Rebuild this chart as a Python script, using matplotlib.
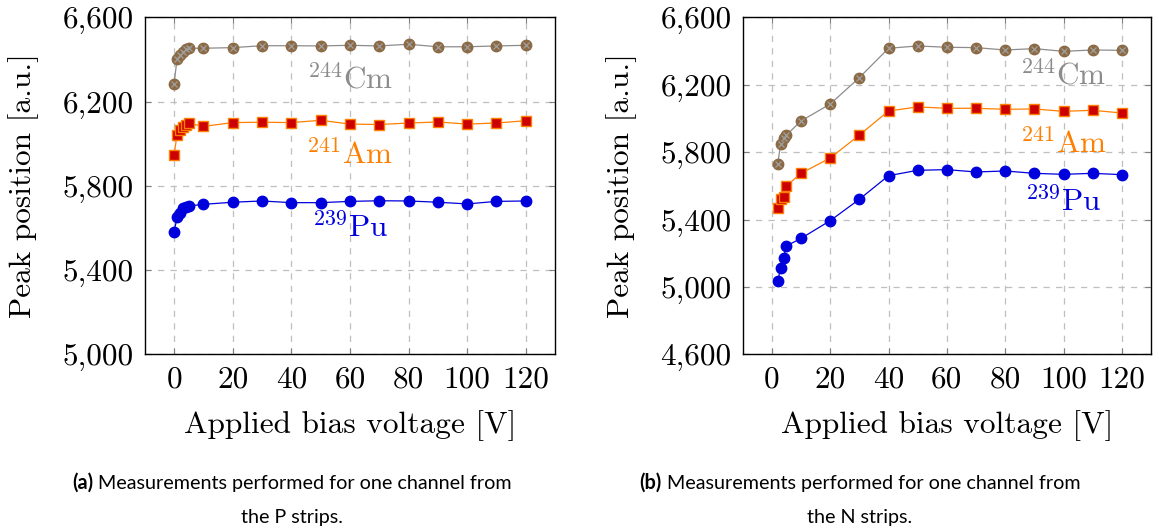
import matplotlib
matplotlib.use("Agg")
import matplotlib.pyplot as plt
from matplotlib.ticker import FuncFormatter

plt.rcParams['mathtext.fontset'] = 'cm'
plt.rcParams['axes.unicode_minus'] = False

# P strips (left)
p_volt = [0, 1, 2, 3, 4, 5, 10, 20, 30, 40, 50, 60, 70, 80, 90, 100, 110, 120]
p_cm = [6283, 6401, 6421, 6437, 6448, 6453, 6453, 6456, 6465, 6465, 6464, 6467, 6464, 6472, 6460, 6460, 6464, 6467]
p_am = [5946, 6041, 6065, 6078, 6087, 6097, 6082, 6100, 6102, 6100, 6111, 6093, 6091, 6098, 6103, 6093, 6098, 6109]
p_pu = [5579, 5650, 5669, 5693, 5701, 5704, 5712, 5722, 5728, 5720, 5720, 5726, 5729, 5728, 5722, 5714, 5726, 5728]

# N strips (right)
n_volt = [2, 3, 4, 5, 10, 20, 30, 40, 50, 60, 70, 80, 90, 100, 110, 120]
n_cm = [5729, 5848, 5882, 5901, 5985, 6085, 6242, 6416, 6430, 6422, 6420, 6406, 6414, 6398, 6406, 6404]
n_am = [5468, 5524, 5532, 5599, 5674, 5765, 5901, 6044, 6068, 6060, 6060, 6054, 6056, 6042, 6048, 6032]
n_pu = [5035, 5110, 5172, 5243, 5288, 5393, 5520, 5660, 5692, 5696, 5682, 5688, 5674, 5668, 5674, 5666]

x_ticks = [0, 20, 40, 60, 80, 100, 120]
p_yticks = [5000, 5400, 5800, 6200, 6600]
n_yticks = [4600, 5000, 5400, 5800, 6200, 6600]

fig = plt.figure(figsize=(11.59, 5.32), dpi=100)
ax1 = fig.add_axes([0.1249, 0.334, 0.354, 0.6335])
ax2 = fig.add_axes([0.6408, 0.334, 0.3523, 0.6335])

tick_fs = 22.5
lab_fs = 22.6
iso_fs = 22.5
cm_font = 'cmr10'
fmt = FuncFormatter(lambda v, pos: '{:,.0f}'.format(v))

def draw(ax, volt, cm, am, pu, yticks, ylim, lab_pos):
    ax.plot(volt, cm, color='#8c8c8c', lw=0.9, marker='o', ms=7.5,
            mfc='#8b6a45', mec='#8b6a45', zorder=3)
    # cross inside the Cm circles
    ax.plot(volt, cm, ls='none', marker='x', ms=5, mec='#a0a0a0', mew=0.9, zorder=4)
    ax.plot(volt, am, color='#ff8000', lw=0.9, marker='s', ms=7.5,
            mfc='#cc0000', mec='#ff8000', mew=1.0, zorder=3)
    ax.plot(volt, pu, color='#0000dd', lw=0.9, marker='o', ms=7.5,
            mfc='#0000dd', mec='#0000dd', zorder=3)
    ax.set_xlim(-10, 130)
    ax.set_ylim(*ylim)
    ax.set_xticks(x_ticks)
    ax.set_yticks(yticks)
    ax.yaxis.set_major_formatter(fmt)
    ax.grid(True, ls=(0, (5, 5)), color='#bfbfbf', lw=0.9)
    ax.set_axisbelow(True)
    ax.tick_params(direction='in', length=4, color='#808080', top=True, right=True,
                   labelsize=tick_fs, pad=8)
    for lab in ax.get_xticklabels() + ax.get_yticklabels():
        lab.set_fontfamily(cm_font)
    for s in ax.spines.values():
        s.set_linewidth(1.0)
    ax.set_xlabel('Applied bias voltage [V]', fontsize=lab_fs, family=cm_font, labelpad=12)
    ax.set_ylabel('Peak position [a.u.]', fontsize=lab_fs, family=cm_font, labelpad=17)
    (cx, cy), (ax_, ay), (px, py) = lab_pos
    ax.text(cx, cy, r'$^{244}\mathrm{Cm}$', color='#8c8c8c', fontsize=iso_fs, ha='center', va='center')
    ax.text(ax_, ay, r'$^{241}\mathrm{Am}$', color='#ff8000', fontsize=iso_fs, ha='center', va='center')
    ax.text(px, py, r'$^{239}\mathrm{Pu}$', color='#0000dd', fontsize=iso_fs, ha='center', va='center')

draw(ax1, p_volt, p_cm, p_am, p_pu, p_yticks, (5000, 6600),
     ((60, 6302), (60, 5948), (60, 5600)))
draw(ax2, n_volt, n_cm, n_am, n_pu, n_yticks, (4600, 6600),
     ((100, 6252), (100, 5847), (100, 5504)))

# captions with bold tag
cap_fs = 14.2
renderer = fig.canvas.get_renderer()

def caption(xc, tag, line1, line2):
    y1 = 1 - 483 / 532
    y2 = 1 - 517 / 532
    t_tag = fig.text(0, y1, tag, fontsize=cap_fs, family='Lato', weight='bold', va='center')
    t_body = fig.text(0, y1, ' ' + line1, fontsize=cap_fs, family='Lato', va='center')
    w_tag = t_tag.get_window_extent(renderer).width / fig.bbox.width
    w_body = t_body.get_window_extent(renderer).width / fig.bbox.width
    x0 = xc - (w_tag + w_body) / 2
    t_tag.set_x(x0)
    t_body.set_x(x0 + w_tag)
    fig.text(xc, y2, line2, fontsize=cap_fs, family='Lato', ha='center', va='center')

caption(0.252, '(a)', 'Measurements performed for one channel from', 'the P strips.')
caption(0.742, '(b)', 'Measurements performed for one channel from', 'the N strips.')

fig.savefig('out.png', dpi=100)
